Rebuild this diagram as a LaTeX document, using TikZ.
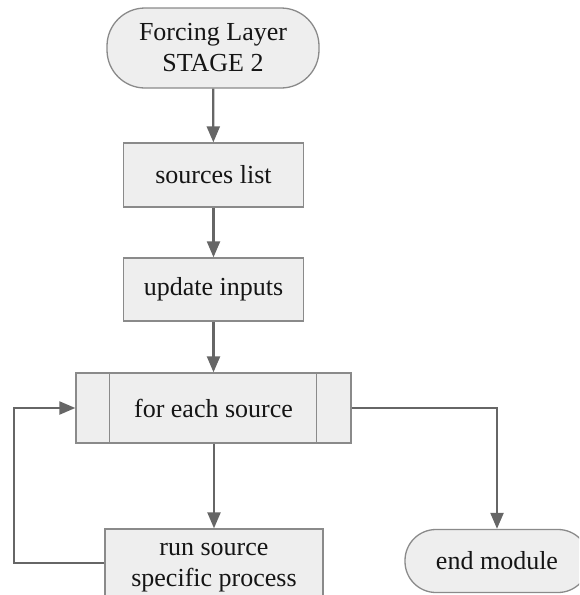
\documentclass[tikz,border=0pt]{standalone}
\usepackage{fontspec}
\setmainfont{Liberation Serif}
\usetikzlibrary{arrows.meta}
\definecolor{boxfill}{HTML}{EEEEEE}
\definecolor{boxline}{HTML}{8A8A8A}
\definecolor{linkcol}{HTML}{666666}
\definecolor{txt}{HTML}{151515}
\begin{document}
\begin{tikzpicture}[x=1pt,y=-1pt,
  every node/.style={font=\fontsize{26}{31}\selectfont, text=txt, align=center, inner sep=0pt},
  terminal/.style={draw=boxline, fill=boxfill, line width=1.3pt, rounded corners=#1},
  stepbox/.style={draw=boxline, fill=boxfill, line width=1.3pt, rectangle},
  conn/.style={draw=linkcol, line width=2.2pt, -{Triangle[length=16pt,width=13pt]}}
]
\useasboundingbox (0,0) rectangle (579,595);
\clip (0,0) rectangle (579,595);

% flow steps
\node[terminal=38pt, minimum width=212pt, minimum height=80pt] (start) at (213,48) {Forcing Layer\\STAGE 2};
\node[stepbox, minimum width=180pt, minimum height=64pt] (sources) at (213.5,175) {sources list};
\node[stepbox, minimum width=180pt, minimum height=63pt] (update) at (213.5,289.5) {update inputs};
\node[stepbox, minimum width=275pt, minimum height=70pt] (foreach) at (213.5,408) {for each source};
\draw[draw=boxline, line width=1.3pt] ([xshift=34pt]foreach.north west) -- ([xshift=34pt]foreach.south west);
\draw[draw=boxline, line width=1.3pt] ([xshift=-35pt]foreach.north east) -- ([xshift=-35pt]foreach.south east);
\node[stepbox, minimum width=218pt, minimum height=78pt] (run) at (214,568) {run source\\specific process};
\node[terminal=31pt, minimum width=184pt, minimum height=63pt] (endm) at (497,561) {end module};

% connectors
\draw[conn] (start) -- (sources);
\draw[conn] (sources) -- (update);
\draw[conn] (update) -- (foreach);
\draw[conn] (foreach.south -| run.north) -- (run.north);
\coordinate (loopc) at (14,563);
\draw[conn] (loopc -| run.west) -- (loopc) |- (foreach.west);
\draw[conn] (foreach.east) -| (endm.north);
\end{tikzpicture}
\end{document}
